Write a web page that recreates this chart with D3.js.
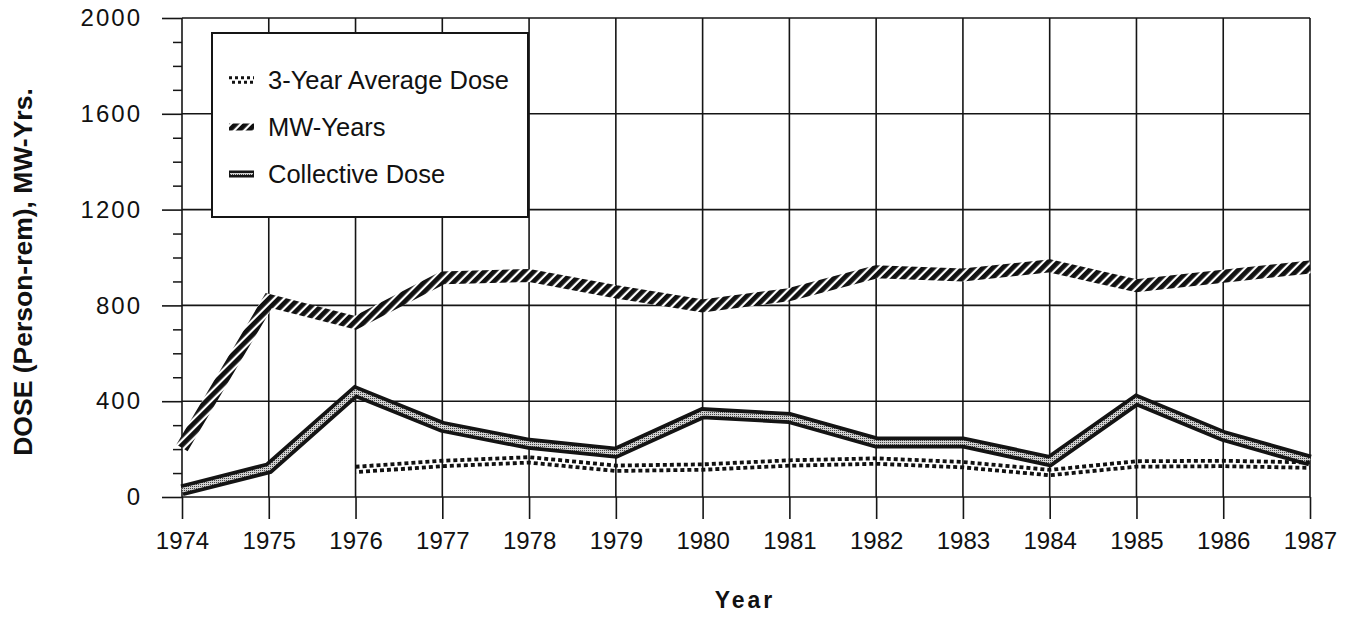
<!DOCTYPE html>
<html>
<head>
<meta charset="utf-8">
<script src="https://cdn.jsdelivr.net/npm/d3@7"></script>
<style>
  html, body { margin: 0; padding: 0; background: #fff; }
  svg { display: block; }
  text { font-family: "Liberation Sans", Arial, Helvetica, sans-serif; fill: #111; }
</style>
</head>
<body>
<script>
// Annual collective dose, installed capacity, and 3-year running average
const years = [1974, 1975, 1976, 1977, 1978, 1979, 1980, 1981, 1982, 1983, 1984, 1985, 1986, 1987];
const collectiveDose = [28, 120, 440, 293, 222, 185, 350, 330, 228, 228, 150, 405, 255, 152];
const mwYears = [205, 820, 727, 915, 925, 857, 798, 845, 940, 927, 965, 882, 922, 960];
const avgYears = [1976, 1977, 1978, 1979, 1980, 1981, 1982, 1983, 1984, 1985, 1986, 1987];
const avgDose = [115, 140, 155, 120, 125, 142, 150, 135, 102, 138, 140, 133];
const yTicks = [0, 400, 800, 1200, 1600, 2000];
const legendLabels = ["3-Year Average Dose", "MW-Years", "Collective Dose"];

const W = 1349, H = 626;
const svg = d3.select("body").append("svg").attr("width", W).attr("height", H);
svg.append("rect").attr("width", W).attr("height", H).attr("fill", "#fff");

const x = d3.scaleLinear().domain([1974, 1987]).range([182, 1310]);
const y = d3.scaleLinear().domain([0, 2000]).range([497, 18]);

// Fill patterns: diagonal hatch for MW-Years, stipple for the dose band
const defs = svg.append("defs");
const hatch = defs.append("pattern").attr("id", "hatch")
  .attr("patternUnits", "userSpaceOnUse").attr("width", 7).attr("height", 7)
  .attr("patternTransform", "rotate(45)");
hatch.append("rect").attr("width", 7).attr("height", 7).attr("fill", "#fff");
hatch.append("rect").attr("width", 4.8).attr("height", 7).attr("fill", "#111");

const stipple = defs.append("pattern").attr("id", "stipple")
  .attr("patternUnits", "userSpaceOnUse").attr("width", 2).attr("height", 2);
stipple.append("rect").attr("width", 2).attr("height", 2).attr("fill", "#d2d2d2");
stipple.append("rect").attr("width", 1).attr("height", 1).attr("fill", "#444");

// Grid
const grid = svg.append("g").attr("stroke", "#151515").attr("stroke-width", 1.6);
grid.selectAll("line.h").data(yTicks).join("line").attr("class", "h")
  .attr("x1", x(1974)).attr("x2", x(1987))
  .attr("y1", d => y(d)).attr("y2", d => y(d));
grid.selectAll("line.v").data(years).join("line").attr("class", "v")
  .attr("x1", d => x(d)).attr("x2", d => x(d))
  .attr("y1", y(2000)).attr("y2", y(0));

// X axis
const xAxis = svg.append("g").attr("transform", `translate(0,${y(0)})`)
  .call(d3.axisBottom(x).tickValues(years).tickFormat(d3.format("d")).tickSize(22).tickPadding(13));
xAxis.select(".domain").remove();
xAxis.selectAll(".tick line").attr("stroke", "#151515").attr("stroke-width", 1.6);
xAxis.selectAll(".tick text").attr("font-size", 24).attr("fill", "#111")
  .style("font-family", '"Liberation Sans", Arial, sans-serif');

// Y axis: major ticks with labels, minor ticks every 100
const yAxis = svg.append("g").attr("transform", `translate(${x(1974)},0)`)
  .call(d3.axisLeft(y).tickValues(yTicks).tickFormat(d3.format("d")).tickSize(20).tickPadding(20));
yAxis.select(".domain").remove();
yAxis.selectAll(".tick line").attr("stroke", "#151515").attr("stroke-width", 1.6);
yAxis.selectAll(".tick text").attr("font-size", 24).attr("fill", "#111")
  .attr("letter-spacing", 2)
  .style("font-family", '"Liberation Sans", Arial, sans-serif');

const minor = d3.range(100, 2000, 100).filter(v => v % 400 !== 0);
const yMinor = svg.append("g").attr("transform", `translate(${x(1974)},0)`)
  .call(d3.axisLeft(y).tickValues(minor).tickSize(9).tickFormat(""));
yMinor.select(".domain").remove();
yMinor.selectAll(".tick line").attr("stroke", "#151515").attr("stroke-width", 1.5);

// Series
const line = d3.line().x(d => x(d[0])).y(d => y(d[1])).curve(d3.curveLinear);
const mwData = years.map((yr, i) => [yr, mwYears[i]]);
const cdData = years.map((yr, i) => [yr, collectiveDose[i]]);
const avgData = avgYears.map((yr, i) => [yr, avgDose[i]]);

// MW-Years: hatched band
svg.append("path").datum(mwData).attr("d", line)
  .attr("fill", "none").attr("stroke", "url(#hatch)").attr("stroke-width", 13)
  .attr("stroke-linejoin", "miter");

// Collective dose: dark band with stippled core
svg.append("path").datum(cdData).attr("d", line)
  .attr("fill", "none").attr("stroke", "#141414").attr("stroke-width", 12)
  .attr("stroke-linejoin", "miter");
svg.append("path").datum(cdData).attr("d", line)
  .attr("fill", "none").attr("stroke", "url(#stipple)").attr("stroke-width", 4.5)
  .attr("stroke-linejoin", "miter");

// 3-year average: two staggered rows of short dashes
[[-2.7, 0], [2.7, 3.5]].forEach(([dy, off]) => {
  svg.append("path").datum(avgData).attr("d", line)
    .attr("transform", `translate(0,${dy})`)
    .attr("fill", "none").attr("stroke", "#111").attr("stroke-width", 3.8)
    .attr("stroke-dasharray", "4,3").attr("stroke-dashoffset", off);
});

// Legend
const lg = svg.append("g");
lg.append("rect").attr("x", 212).attr("y", 33).attr("width", 316).attr("height", 184)
  .attr("fill", "#fff").attr("stroke", "#151515").attr("stroke-width", 2);
const rowY = [80, 127, 174];
lg.selectAll("text.lab").data(legendLabels).join("text").attr("class", "lab")
  .attr("x", 268).attr("y", (d, i) => rowY[i]).attr("dy", "0.36em")
  .attr("font-size", 25.5).text(d => d);

// legend swatches
const sx0 = 229, sx1 = 254;
const swAvg = d3.line()([[sx0, rowY[0]], [sx1, rowY[0]]]);
[[-2.2, 0], [2.2, 3]].forEach(([dy, off]) => {
  lg.append("path").attr("d", swAvg).attr("transform", `translate(0,${dy})`)
    .attr("stroke", "#111").attr("stroke-width", 3)
    .attr("stroke-dasharray", "3,3").attr("stroke-dashoffset", off);
});
lg.append("rect").attr("x", sx0).attr("y", rowY[1] - 3.5).attr("width", sx1 - sx0).attr("height", 7)
  .attr("fill", "url(#hatch)");
lg.append("rect").attr("x", sx0).attr("y", rowY[2] - 3.5).attr("width", sx1 - sx0).attr("height", 7)
  .attr("fill", "#141414");
lg.append("rect").attr("x", sx0 + 1).attr("y", rowY[2] - 1).attr("width", sx1 - sx0 - 2).attr("height", 2)
  .attr("fill", "url(#stipple)");

// Axis titles
svg.append("text").attr("transform", `translate(32,272) rotate(-90)`)
  .attr("text-anchor", "middle").attr("font-size", 26.5).attr("font-weight", "bold")
  .text("DOSE (Person-rem), MW-Yrs.");
svg.append("text").attr("x", 745).attr("y", 608)
  .attr("text-anchor", "middle").attr("font-size", 23).attr("font-weight", "bold")
  .attr("letter-spacing", 3).text("Year");
</script>
</body>
</html>
